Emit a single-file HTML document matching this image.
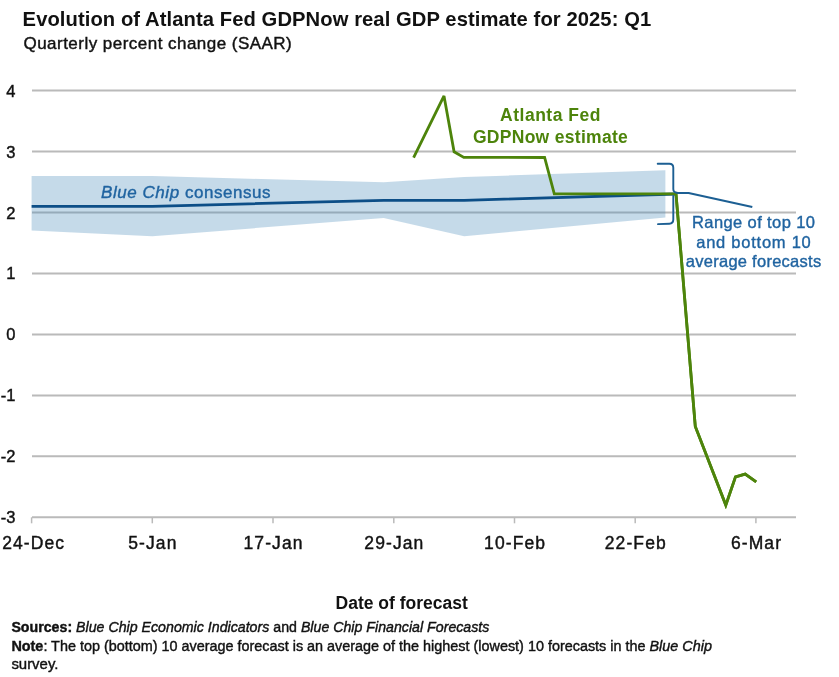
<!DOCTYPE html>
<html><head><meta charset="utf-8"><title>GDPNow chart</title>
<style>
html,body{margin:0;padding:0;background:#fff;}
body{width:839px;height:677px;overflow:hidden;font-family:"Liberation Sans",sans-serif;}
svg{display:block;filter:blur(0.5px);}
text.r{stroke-width:0.42px;paint-order:stroke;}
text.rb{stroke-width:0.38px;paint-order:stroke;}
</style></head>
<body>
<svg width="839" height="677" viewBox="0 0 839 677">
<rect width="839" height="677" fill="#fff"/>
<line x1="32" y1="90.5" x2="796" y2="90.5" stroke="#bababa" stroke-width="2"/>
<line x1="32" y1="151.5" x2="796" y2="151.5" stroke="#bababa" stroke-width="2"/>
<line x1="32" y1="212.5" x2="796" y2="212.5" stroke="#bababa" stroke-width="2"/>
<line x1="32" y1="273.4" x2="796" y2="273.4" stroke="#bababa" stroke-width="2"/>
<line x1="32" y1="334.4" x2="796" y2="334.4" stroke="#bababa" stroke-width="2"/>
<line x1="32" y1="395.4" x2="796" y2="395.4" stroke="#bababa" stroke-width="2"/>
<line x1="32" y1="456.3" x2="796" y2="456.3" stroke="#bababa" stroke-width="2"/>
<line x1="32" y1="517.3" x2="796" y2="517.3" stroke="#bababa" stroke-width="2"/>
<line x1="31.6" y1="517.3" x2="31.6" y2="523.3" stroke="#bababa" stroke-width="1.5"/>
<line x1="152.3" y1="517.3" x2="152.3" y2="523.3" stroke="#bababa" stroke-width="1.5"/>
<line x1="273.0" y1="517.3" x2="273.0" y2="523.3" stroke="#bababa" stroke-width="1.5"/>
<line x1="393.8" y1="517.3" x2="393.8" y2="523.3" stroke="#bababa" stroke-width="1.5"/>
<line x1="514.5" y1="517.3" x2="514.5" y2="523.3" stroke="#bababa" stroke-width="1.5"/>
<line x1="635.2" y1="517.3" x2="635.2" y2="523.3" stroke="#bababa" stroke-width="1.5"/>
<line x1="755.9" y1="517.3" x2="755.9" y2="523.3" stroke="#bababa" stroke-width="1.5"/>
<polygon points="31.6,176.1 152.3,176.1 383.7,182.2 464.2,177.0 665.4,170.2 665.4,217.6 464.2,236.2 383.7,217.9 152.3,236.3 31.6,230.6" fill="rgba(74,139,186,0.32)"/>
<polyline points="31.6,206.3 152.3,206.3 383.7,200.3 464.2,200.3 676.0,194.0" fill="none" stroke="#0c4e87" stroke-width="2.8" stroke-linejoin="round"/>
<polyline points="413.6,157.6 444.0,95.9 454.1,151.8 463.8,157.4 544.6,157.5 554.3,193.8 676.0,193.8 695.3,426.5 725.8,505.1 735.5,476.8 745.2,474.1 756.2,481.8" fill="none" stroke="#4d840b" stroke-width="2.8" stroke-linejoin="miter" stroke-miterlimit="3"/>
<polyline points="676.0,193.0 688.6,192.9 752.3,207.0" fill="none" stroke="#1c5f93" stroke-width="2" stroke-linejoin="round"/>
<path d="M657.7,163.7 L669.3,163.7 Q673.3,163.7 673.3,167.7 L673.3,189 Q673.3,192.5 677,192.8 M673.3,196 L673.3,219.5 Q673.3,223.5 669.3,223.7 L658,224.1" fill="none" stroke="#1c5f93" stroke-width="1.9" stroke-linecap="round"/>
<polyline points="676.0,193.8 695.3,426.5 725.8,505.1 735.5,476.8 745.2,474.1 756.2,481.8" fill="none" stroke="#4d840b" stroke-width="2.8" stroke-linejoin="miter" stroke-miterlimit="3"/>
<text x="22.6" y="26.4" font-family="Liberation Sans, sans-serif" font-weight="bold" font-size="20.2" letter-spacing="0.08" fill="#111">Evolution of Atlanta Fed GDPNow real GDP estimate for 2025: Q1</text>
<text class="r" stroke="#111" x="23.5" y="48.6" font-family="Liberation Sans, sans-serif" font-size="17" letter-spacing="0.47" fill="#111">Quarterly percent change (SAAR)</text>
<text class="r" stroke="#111" x="15.5" y="96.5" font-family="Liberation Sans, sans-serif" font-size="16.5" text-anchor="end" fill="#111">4</text>
<text class="r" stroke="#111" x="15.5" y="157.5" font-family="Liberation Sans, sans-serif" font-size="16.5" text-anchor="end" fill="#111">3</text>
<text class="r" stroke="#111" x="15.5" y="218.5" font-family="Liberation Sans, sans-serif" font-size="16.5" text-anchor="end" fill="#111">2</text>
<text class="r" stroke="#111" x="15.5" y="279.4" font-family="Liberation Sans, sans-serif" font-size="16.5" text-anchor="end" fill="#111">1</text>
<text class="r" stroke="#111" x="15.5" y="340.4" font-family="Liberation Sans, sans-serif" font-size="16.5" text-anchor="end" fill="#111">0</text>
<text class="r" stroke="#111" x="15.5" y="401.4" font-family="Liberation Sans, sans-serif" font-size="16.5" text-anchor="end" fill="#111">-1</text>
<text class="r" stroke="#111" x="15.5" y="462.3" font-family="Liberation Sans, sans-serif" font-size="16.5" text-anchor="end" fill="#111">-2</text>
<text class="r" stroke="#111" x="15.5" y="523.3" font-family="Liberation Sans, sans-serif" font-size="16.5" text-anchor="end" fill="#111">-3</text>
<text class="r" stroke="#111" x="33.7" y="548.9" font-family="Liberation Sans, sans-serif" font-size="17.5" letter-spacing="1.1" text-anchor="middle" fill="#111">24-Dec</text>
<text class="r" stroke="#111" x="152.9" y="548.9" font-family="Liberation Sans, sans-serif" font-size="17.5" letter-spacing="1.1" text-anchor="middle" fill="#111">5-Jan</text>
<text class="r" stroke="#111" x="273.6" y="548.9" font-family="Liberation Sans, sans-serif" font-size="17.5" letter-spacing="1.1" text-anchor="middle" fill="#111">17-Jan</text>
<text class="r" stroke="#111" x="394.4" y="548.9" font-family="Liberation Sans, sans-serif" font-size="17.5" letter-spacing="1.1" text-anchor="middle" fill="#111">29-Jan</text>
<text class="r" stroke="#111" x="515.1" y="548.9" font-family="Liberation Sans, sans-serif" font-size="17.5" letter-spacing="1.1" text-anchor="middle" fill="#111">10-Feb</text>
<text class="r" stroke="#111" x="635.8" y="548.9" font-family="Liberation Sans, sans-serif" font-size="17.5" letter-spacing="1.1" text-anchor="middle" fill="#111">22-Feb</text>
<text class="r" stroke="#111" x="756.5" y="548.9" font-family="Liberation Sans, sans-serif" font-size="17.5" letter-spacing="1.1" text-anchor="middle" fill="#111">6-Mar</text>
<text class="rb" stroke="#1f63a0" x="101.0" y="198" font-family="Liberation Sans, sans-serif" font-size="17" letter-spacing="0.55" fill="#1f63a0"><tspan font-style="italic">Blue Chip</tspan> consensus</text>
<text x="550.5" y="120.8" font-family="Liberation Sans, sans-serif" font-weight="bold" font-size="17.5" letter-spacing="0.5" text-anchor="middle" fill="#4d840b">Atlanta Fed</text>
<text x="550.5" y="142.6" font-family="Liberation Sans, sans-serif" font-weight="bold" font-size="17.5" letter-spacing="0.3" text-anchor="middle" fill="#4d840b">GDPNow estimate</text>
<text class="rb" stroke="#1f63a0" x="753.70" y="228" font-family="Liberation Sans, sans-serif" font-size="16.5" letter-spacing="0.39" text-anchor="middle" fill="#1f63a0">Range of top 10</text>
<text class="rb" stroke="#1f63a0" x="753.88" y="248" font-family="Liberation Sans, sans-serif" font-size="16.5" letter-spacing="0.75" text-anchor="middle" fill="#1f63a0">and bottom 10</text>
<text class="rb" stroke="#1f63a0" x="753.63" y="267.2" font-family="Liberation Sans, sans-serif" font-size="16.5" letter-spacing="0.26" text-anchor="middle" fill="#1f63a0">average forecasts</text>
<text x="401.7" y="609" font-family="Liberation Sans, sans-serif" font-weight="bold" font-size="17.5" text-anchor="middle" fill="#111">Date of forecast</text>
<text class="r" stroke="#111" x="11.4" y="632.3" font-family="Liberation Sans, sans-serif" font-size="15.4" textLength="478" lengthAdjust="spacingAndGlyphs" fill="#111"><tspan font-weight="bold">Sources:</tspan> <tspan font-style="italic">Blue Chip Economic Indicators</tspan> and <tspan font-style="italic">Blue Chip Financial Forecasts</tspan></text>
<text class="r" stroke="#111" x="11.4" y="650.9" font-family="Liberation Sans, sans-serif" font-size="15.4" textLength="700.5" lengthAdjust="spacingAndGlyphs" fill="#111"><tspan font-weight="bold">Note</tspan>: The top (bottom) 10 average forecast is an average of the highest (lowest) 10 forecasts in the <tspan font-style="italic">Blue Chip</tspan></text>
<text class="r" stroke="#111" x="11.4" y="669.2" font-family="Liberation Sans, sans-serif" font-size="15.4" textLength="47" lengthAdjust="spacingAndGlyphs" fill="#111">survey.</text>
</svg>
</body></html>
